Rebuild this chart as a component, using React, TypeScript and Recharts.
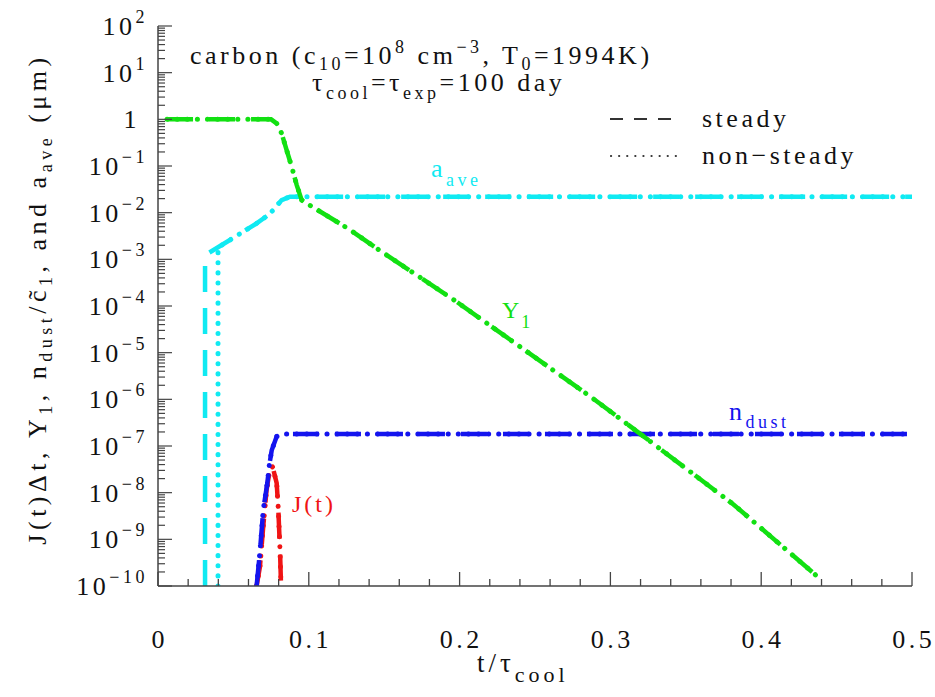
import React from "react";
import { LineChart, Line, XAxis, YAxis } from "recharts";

const W = 935;
const H = 697;
const FONT = "'Liberation Serif', serif";
const LS = 3.5;
const AXIS = "#444";
const INK = "#111";

// axis ticks
const xTicks = [
  0, 0.02, 0.04, 0.06, 0.08, 0.1, 0.12, 0.14, 0.16, 0.18, 0.2, 0.22, 0.24,
  0.26, 0.28, 0.3, 0.32, 0.34, 0.36, 0.38, 0.4, 0.42, 0.44, 0.46, 0.48, 0.5,
];
const xLabels = ["0", "0.1", "0.2", "0.3", "0.4", "0.5"];
const yDecades = [-10, -9, -8, -7, -6, -5, -4, -3, -2, -1, 0, 1, 2];
const yMantissas = [2, 3, 4, 5, 6, 7, 8, 9];

// Y_1 (same for steady / non-steady)
const y1T = [0.006, 0.075, 0.0787, 0.082, 0.0853, 0.0886, 0.092, 0.0953, 0.0986, 0.1273, 0.1464, 0.197, 0.2875, 0.32, 0.3816, 0.4405];
const y1V = [1, 1, 0.82, 0.5, 0.22, 0.098, 0.039, 0.0186, 0.0158, 4.3e-3, 1.6e-3, 1.3e-4, 1.1e-6, 1.8e-7, 5.6e-9, 1.3e-10];

// a_ave
const aveSteadyT = [0.0312, 0.0312, 0.0477, 0.0654, 0.0731, 0.0765, 0.082, 0.0875, 0.5];
const aveSteadyV = [1e-10, 1.23e-3, 2.6e-3, 5.9e-3, 8.9e-3, 1.15e-2, 1.86e-2, 2.2e-2, 2.2e-2];
const aveUnsteadyT = [0.0398, 0.0398, 0.0477, 0.0654, 0.0731, 0.0765, 0.082, 0.0875, 0.5];
const aveUnsteadyV = [1e-10, 1.8e-3, 2.6e-3, 5.9e-3, 8.9e-3, 1.15e-2, 1.86e-2, 2.2e-2, 2.2e-2];

// n_dust
const ndustT = [0.0654, 0.0676, 0.0698, 0.0725, 0.0738, 0.0754, 0.0787, 0.0831, 0.5];
const ndustV = [1e-10, 5.5e-10, 4.3e-9, 1.6e-8, 3.9e-8, 8.1e-8, 1.6e-7, 1.8e-7, 1.8e-7];

// J(t) dt
const jT = [0.0654, 0.0676, 0.0698, 0.072, 0.0743, 0.076, 0.0787, 0.0798, 0.0809, 0.0816];
const jV = [1e-10, 2.6e-10, 1.9e-9, 1.15e-8, 3.3e-8, 3.6e-8, 1.6e-8, 4.3e-9, 5.9e-10, 1e-10];

const GREEN = "#12e012";
const CYAN = "#10eaf2";
const BLUE = "#1414ee";
const RED = "#f01414";

const zip = (ts: number[], vs: number[]) => ts.map((t, i) => ({ t, v: vs[i] }));

const yTicks = yDecades.flatMap((k) =>
  k < 2 ? [10 ** k, ...yMantissas.map((m) => m * 10 ** k)] : [10 ** k]
);

// [text, baseline shift]; shift > 0 = subscript, < 0 = superscript
type Seg = [string, number?];
function rich(segs: Seg[], small: number) {
  let cur = 0;
  return segs.map(([s, off = 0], i) => {
    const dy = off - cur;
    cur = off;
    return (
      <tspan key={i} dy={dy || undefined} fontSize={off ? small : undefined}>
        {s}
      </tspan>
    );
  });
}

function XTick({ x, y, payload, top }: any) {
  const v = payload.value;
  const idx = Math.round(v * 10);
  const major = Math.abs(v * 10 - idx) < 1e-6;
  const len = major ? 14 : 7;
  const dir = top ? 1 : -1;
  return (
    <g>
      <line x1={x} y1={y} x2={x} y2={y + dir * len} stroke={AXIS} strokeWidth={1.3} />
      {!top && major && (
        <text
          x={x + LS / 2}
          y={y + 62}
          textAnchor="middle"
          fontFamily={FONT}
          fontSize={26}
          letterSpacing={LS}
          fill={INK}
        >
          {xLabels[idx]}
        </text>
      )}
    </g>
  );
}

function YTick({ x, y, payload, left }: any) {
  const lg = Math.log10(payload.value);
  const k = Math.round(lg);
  const major = Math.abs(lg - k) < 1e-6;
  const len = major ? 14 : 7;
  const dir = left ? 1 : -1;
  return (
    <g>
      <line x1={x} y1={y} x2={x + dir * len} y2={y} stroke={AXIS} strokeWidth={1.2} />
      {left && major && (
        <text
          x={k === 0 ? x - 18 : x - 10}
          y={y + 9}
          textAnchor="end"
          fontFamily={FONT}
          fontSize={26}
          letterSpacing={LS}
          fill={INK}
        >
          {k === 0 ? (
            "1"
          ) : (
            <>
              10
              <tspan dy={-12} fontSize={18}>
                {k < 0 ? "\u2212" + -k : String(k)}
              </tspan>
            </>
          )}
        </text>
      )}
    </g>
  );
}

const DASH = "26 16";
const DOT = "0.1 10";

function pair(key: string, color: string, steady: any[], unsteady: any[]) {
  return [
    <Line
      key={key + "-s"}
      xAxisId="b"
      yAxisId="l"
      data={steady}
      dataKey="v"
      type="linear"
      stroke={color}
      strokeWidth={4.5}
      strokeDasharray={DASH}
      dot={false}
      activeDot={false}
      isAnimationActive={false}
    />,
    <Line
      key={key + "-u"}
      xAxisId="b"
      yAxisId="l"
      data={unsteady}
      dataKey="v"
      type="linear"
      stroke={color}
      strokeWidth={5}
      strokeDasharray={DOT}
      strokeLinecap="round"
      dot={false}
      activeDot={false}
      isAnimationActive={false}
    />,
  ];
}

export default function App() {
  return (
    <div style={{ position: "absolute", left: 0, top: 0, width: W, height: H, background: "#fff" }}>
      <LineChart width={W} height={H} margin={{ top: 26, right: 23, bottom: 0, left: 0 }}>
        <XAxis
          xAxisId="b"
          dataKey="t"
          type="number"
          domain={[0, 0.5]}
          allowDataOverflow
          ticks={xTicks}
          interval={0}
          height={111}
          tickSize={0}
          tickMargin={0}
          tickLine={false}
          axisLine={{ stroke: AXIS, strokeWidth: 1.5 }}
          tick={(p: any) => <XTick {...p} />}
        />
        <XAxis
          xAxisId="t"
          orientation="top"
          dataKey="t"
          type="number"
          domain={[0, 0.5]}
          allowDataOverflow
          ticks={xTicks}
          interval={0}
          height={0}
          tickSize={0}
          tickMargin={0}
          tickLine={false}
          axisLine={{ stroke: AXIS, strokeWidth: 1.5 }}
          tick={(p: any) => <XTick {...p} top />}
        />
        <YAxis
          yAxisId="l"
          scale="log"
          type="number"
          domain={[1e-10, 100]}
          allowDataOverflow
          ticks={yTicks}
          interval={0}
          width={158}
          tickSize={0}
          tickMargin={0}
          tickLine={false}
          axisLine={{ stroke: AXIS, strokeWidth: 1.5 }}
          tick={(p: any) => <YTick {...p} left />}
        />
        <YAxis
          yAxisId="r"
          orientation="right"
          scale="log"
          type="number"
          domain={[1e-10, 100]}
          allowDataOverflow
          ticks={yTicks}
          interval={0}
          width={0}
          tickSize={0}
          tickMargin={0}
          tickLine={false}
          axisLine={{ stroke: AXIS, strokeWidth: 1.5 }}
          tick={(p: any) => <YTick {...p} />}
        />
        {pair("j", RED, zip(jT, jV), zip(jT, jV))}
        {pair("nd", BLUE, zip(ndustT, ndustV), zip(ndustT, ndustV))}
        {pair("ave", CYAN, zip(aveSteadyT, aveSteadyV), zip(aveUnsteadyT, aveUnsteadyV))}
        {pair("y1", GREEN, zip(y1T, y1V), zip(y1T, y1V))}
      </LineChart>

      <svg
        width={W}
        height={H}
        style={{ position: "absolute", left: 0, top: 0, pointerEvents: "none" }}
        fontFamily={FONT}
        letterSpacing={LS}
      >
        {/* header */}
        <text x={190} y={64} fontSize={26} fill={INK}>
          {rich(
            [
              ["carbon (c"],
              ["10", 6],
              ["=10"],
              ["8", -11],
              [" cm"],
              ["\u22123", -11],
              [", T"],
              ["0", 6],
              ["=1994K)"],
            ],
            18
          )}
        </text>
        <text x={312} y={91} fontSize={26} fill={INK}>
          {rich([["τ"], ["cool", 8], ["=τ"], ["exp", 8], ["=100 day"]], 18)}
        </text>

        {/* legend */}
        <line x1={610} y1={119} x2={682} y2={119} stroke="#333" strokeWidth={2} strokeDasharray="13 11" />
        <text x={702} y={127} fontSize={26} fill={INK}>
          steady
        </text>
        <line
          x1={611}
          y1={156}
          x2={682}
          y2={156}
          stroke="#333"
          strokeWidth={2.2}
          strokeDasharray="0.1 8"
          strokeLinecap="round"
        />
        <text x={702} y={164} fontSize={26} fill={INK}>
          non−steady
        </text>

        {/* curve labels */}
        <text x={431} y={177} fontSize={26} fill={CYAN}>
          {rich([["a"], ["ave", 9]], 18)}
        </text>
        <text x={502} y={318} fontSize={24} fill={GREEN} letterSpacing={2}>
          {rich([["Y"], ["1", 10]], 18)}
        </text>
        <text x={729} y={420} fontSize={26} fill={BLUE}>
          {rich([["n"], ["dust", 8]], 18)}
        </text>
        <text x={292} y={512} fontSize={24} fill={RED} letterSpacing={3}>
          J(t)
        </text>

        {/* axis titles */}
        <text x={477} y={672} fontSize={27} fill={INK} letterSpacing={4}>
          {rich([["t/τ"], ["cool", 10]], 22)}
        </text>
        <text
          transform="translate(46,299) rotate(-90)"
          fontSize={26}
          fill={INK}
          textAnchor="middle"
          letterSpacing={4.5}
        >
          {rich(
            [
              ["J(t)Δt, Y"],
              ["1", 6],
              [", n"],
              ["dust", 6],
              ["/c̃"],
              ["1", 6],
              [", and a"],
              ["ave", 6],
              [" (μm)"],
            ],
            18
          )}
        </text>
      </svg>
    </div>
  );
}
